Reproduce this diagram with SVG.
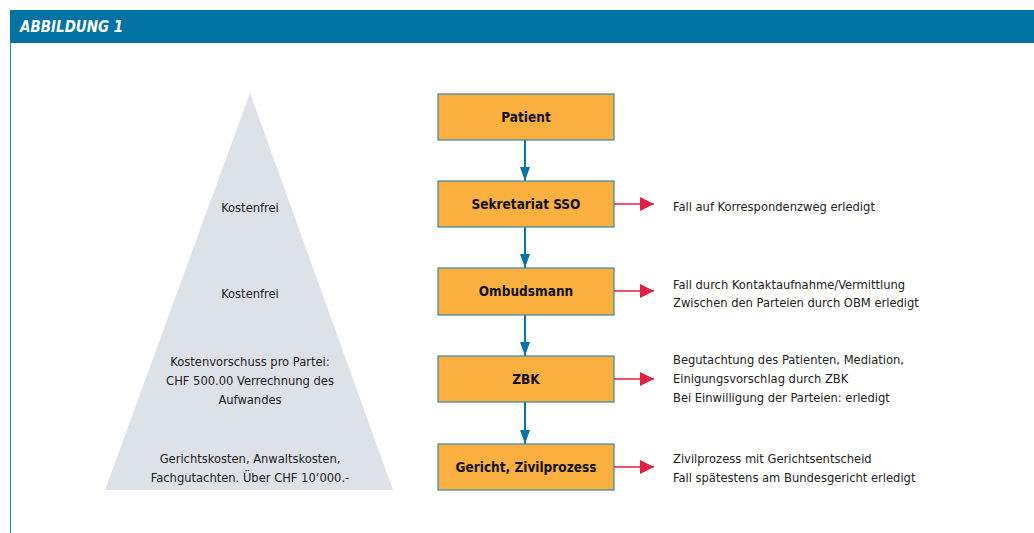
<svg xmlns="http://www.w3.org/2000/svg" width="1034" height="533" viewBox="0 0 1034 533">
<defs>
<style>
.box{fill:#fbb040;stroke:#3a86a8;stroke-width:1.2}
.bl{font-family:"DejaVu Sans Condensed","DejaVu Sans",sans-serif;font-weight:bold;font-size:13.5px;fill:#111;text-anchor:middle}
.t{font-family:"DejaVu Sans Condensed","DejaVu Sans",sans-serif;font-size:12.8px;fill:#222}
.c{text-anchor:middle}
.v{stroke:#0a73a6;stroke-width:2;fill:none}
.r{stroke:#e0203e;stroke-width:1.6;fill:none}
</style>
<marker id="ab" markerWidth="14" markerHeight="10" refX="14" refY="5" orient="auto" markerUnits="userSpaceOnUse"><path d="M0,0L14,5L0,10Z" fill="#0a73a6"/></marker>
<marker id="ar" markerWidth="14" markerHeight="14" refX="14" refY="7" orient="auto" markerUnits="userSpaceOnUse"><path d="M0,0L14,7L0,14Z" fill="#e0203e"/></marker>
</defs>
<rect width="1034" height="533" fill="#fff"/>
<rect x="10" y="10" width="1024" height="33" fill="#0073a4"/>
<text x="20" y="32" font-family="'DejaVu Sans Condensed','DejaVu Sans',sans-serif" font-weight="bold" font-style="italic" font-size="15" fill="#fff">ABBILDUNG 1</text>
<line x1="10.5" y1="43" x2="10.5" y2="533" stroke="#1a8ac0" stroke-width="1"/>
<g id="pyramid">
<polygon points="250,93 393,490 105,490" fill="#dde1e8"/>
<text class="t c" x="250" y="212">Kostenfrei</text>
<text class="t c" x="250" y="298">Kostenfrei</text>
<text class="t c" x="250" y="366">Kostenvorschuss pro Partei:</text>
<text class="t c" x="250" y="385">CHF 500.00 Verrechnung des</text>
<text class="t c" x="250" y="404">Aufwandes</text>
<text class="t c" x="250" y="463">Gerichtskosten, Anwaltskosten,</text>
<text class="t c" x="250" y="482">Fachgutachten. Über CHF 10’000.-</text>
</g>
<g id="connectors">
<line class="v" x1="525" y1="140" x2="525" y2="181" marker-end="url(#ab)"/>
<line class="v" x1="525" y1="227" x2="525" y2="268" marker-end="url(#ab)"/>
<line class="v" x1="525" y1="315" x2="525" y2="356" marker-end="url(#ab)"/>
<line class="v" x1="525" y1="402" x2="525" y2="444" marker-end="url(#ab)"/>
<line class="r" x1="614" y1="204" x2="654" y2="204" marker-end="url(#ar)"/>
<line class="r" x1="614" y1="291" x2="654" y2="291" marker-end="url(#ar)"/>
<line class="r" x1="614" y1="379" x2="654" y2="379" marker-end="url(#ar)"/>
<line class="r" x1="614" y1="467" x2="654" y2="467" marker-end="url(#ar)"/>
</g>
<g id="n-patient"><rect class="box" x="438" y="94" width="176" height="46"/><text class="bl" x="526" y="122">Patient</text></g>
<g id="n-sso"><rect class="box" x="438" y="181" width="176" height="46"/><text class="bl" x="526" y="209">Sekretariat SSO</text></g>
<g id="n-obm"><rect class="box" x="438" y="268" width="176" height="47"/><text class="bl" x="526" y="296">Ombudsmann</text></g>
<g id="n-zbk"><rect class="box" x="438" y="356" width="176" height="46"/><text class="bl" x="526" y="384">ZBK</text></g>
<g id="n-gericht"><rect class="box" x="438" y="444" width="176" height="46"/><text class="bl" x="526" y="472">Gericht, Zivilprozess</text></g>
<g id="outcomes">
<text class="t" x="673" y="211">Fall auf Korrespondenzweg erledigt</text>
<text class="t" x="673" y="289">Fall durch Kontaktaufnahme/Vermittlung</text>
<text class="t" x="673" y="307">Zwischen den Parteien durch OBM erledigt</text>
<text class="t" x="673" y="364">Begutachtung des Patienten, Mediation,</text>
<text class="t" x="673" y="383">Einigungsvorschlag durch ZBK</text>
<text class="t" x="673" y="402">Bei Einwilligung der Parteien: erledigt</text>
<text class="t" x="673" y="463">Zivilprozess mit Gerichtsentscheid</text>
<text class="t" x="673" y="482">Fall spätestens am Bundesgericht erledigt</text>
</g>
</svg>
